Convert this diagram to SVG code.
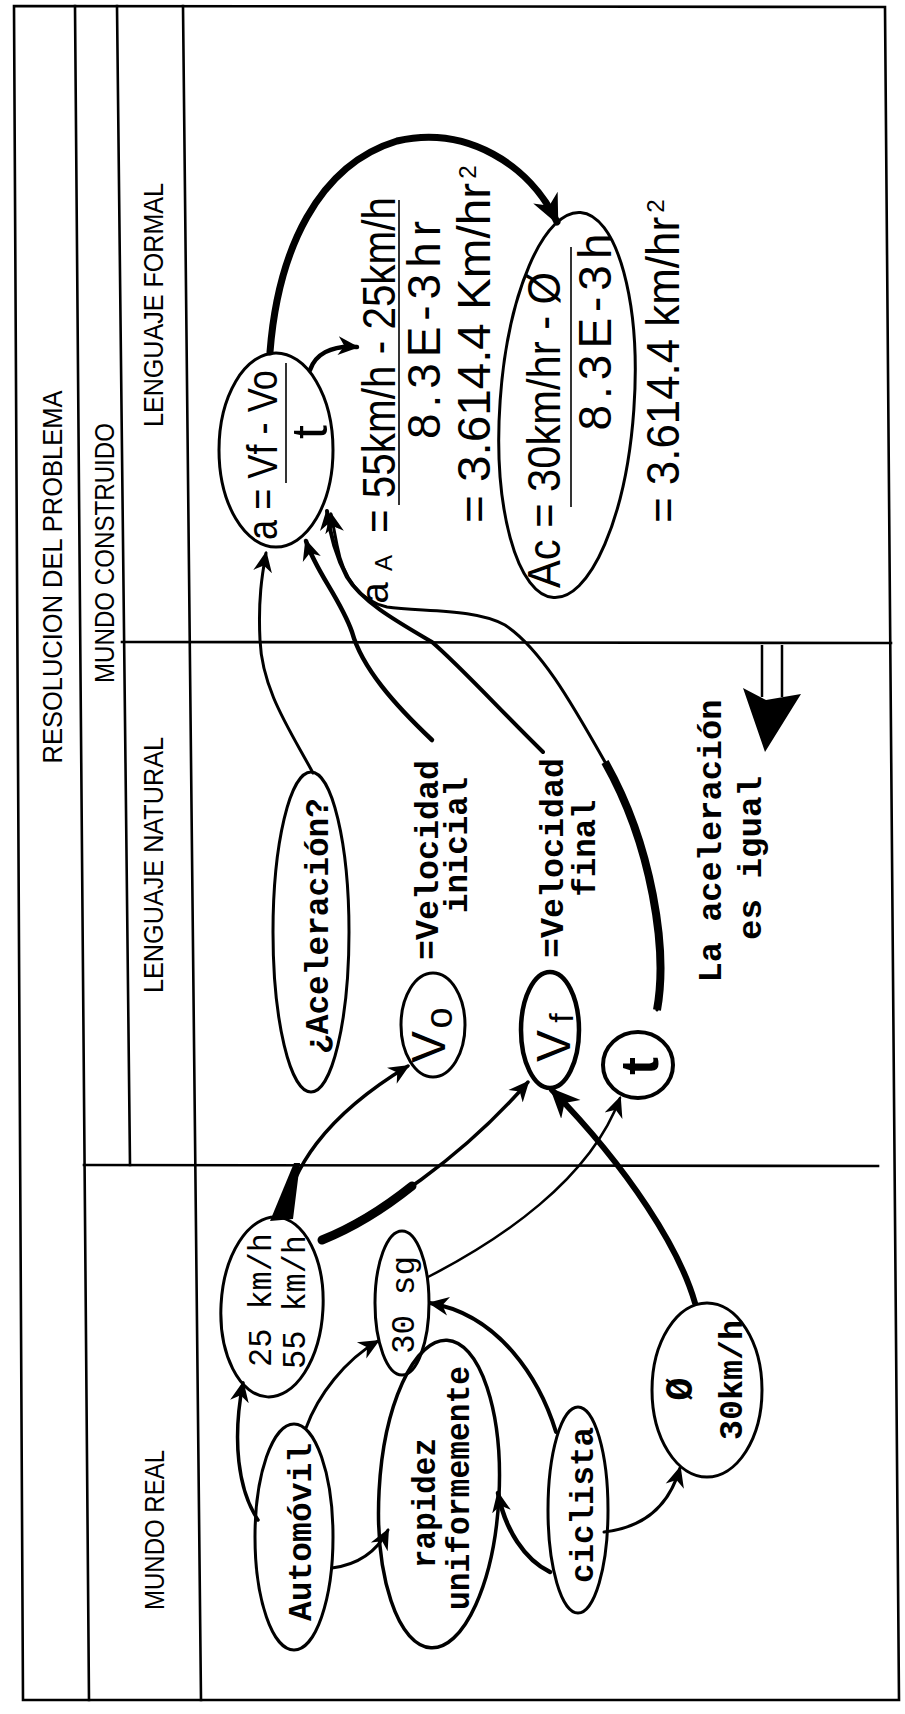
<svg xmlns="http://www.w3.org/2000/svg" width="905" height="1714" viewBox="0 0 905 1714">
<style>
.fr{fill:none;stroke:#000;stroke-width:2.6;stroke-linecap:square}
.n{fill:none;stroke:#000;stroke-width:3}
.h{font-family:"Liberation Sans",Arial,sans-serif;font-size:27px;fill:#000}
.tw{font-family:"Liberation Mono","Courier New",monospace;font-weight:bold;font-size:33px;fill:#000}
.tr{font-family:"Liberation Mono","Courier New",monospace;font-size:34px;fill:#000}
.hw{font-family:"Liberation Sans",Arial,sans-serif;font-size:46px;fill:#000}
.c{fill:none;stroke:#000;stroke-width:3;stroke-linecap:round}
.bar{stroke:#000;stroke-width:1.6}
</style>
<defs>
<marker id="ah" viewBox="0 0 20 20" refX="18" refY="10" markerWidth="21" markerHeight="21" markerUnits="userSpaceOnUse" orient="auto"><path d="M0,1 L20,10 L0,19 L6,10 Z" fill="#000"/></marker>
<marker id="ahL" viewBox="0 0 20 20" refX="18" refY="10" markerWidth="30" markerHeight="30" markerUnits="userSpaceOnUse" orient="auto"><path d="M0,1 L20,10 L0,19 L6,10 Z" fill="#000"/></marker>
</defs>
<rect width="905" height="1714" fill="#fff"/>

<g id="frame">
<path class="fr" d="M14,6 L885,7 L899,1700 L23,1700 Z"/>
<path class="fr" d="M75,6 L89,1700"/>
<path class="fr" d="M117,6 L130,1165"/>
<path class="fr" d="M183,6 L201,1700"/>
<path class="fr" d="M122,642 L891,643"/>
<path class="fr" d="M84,1165 L878,1166"/>
<text class="h" text-anchor="middle" transform="translate(62,577) rotate(-90)" textLength="373" lengthAdjust="spacingAndGlyphs">RESOLUCION DEL PROBLEMA</text>
<text class="h" text-anchor="middle" transform="translate(114,553) rotate(-90)" textLength="260" lengthAdjust="spacingAndGlyphs">MUNDO CONSTRUIDO</text>
<text class="h" text-anchor="middle" transform="translate(163,305) rotate(-90)" textLength="244" lengthAdjust="spacingAndGlyphs">LENGUAJE FORMAL</text>
<text class="h" text-anchor="middle" transform="translate(163,865) rotate(-90)" textLength="256" lengthAdjust="spacingAndGlyphs">LENGUAJE NATURAL</text>
<text class="h" text-anchor="middle" transform="translate(164,1530) rotate(-90)" textLength="160" lengthAdjust="spacingAndGlyphs">MUNDO REAL</text>
</g>

<g id="connectors">
<path class="c" d="M313,773 C290,730 262,690 260,640 C258,600 262,575 266,553" marker-end="url(#ah)"/>
<path class="c" style="stroke-width:4.5" d="M432,740 C395,705 362,668 352,632 C340,598 316,572 306,541" marker-end="url(#ah)"/>
<path class="c" style="stroke-width:4" d="M543,752 C500,710 462,668 432,642 C398,622 362,602 347,577 C336,556 330,535 327,511" marker-end="url(#ah)"/>
<path class="c" d="M657,1010 C668,950 652,845 605,762 C570,700 540,648 505,625 C475,608 420,612 387,607 C360,601 343,578 337,545 L331,514" marker-end="url(#ah)"/>
<path class="c" style="stroke-width:8;stroke-linecap:butt" d="M657,1010 C668,950 652,845 605,762"/>
<path class="c" style="stroke-width:7" d="M270,352 C278,250 318,165 397,141 C467,125 530,165 557,222" marker-end="url(#ahL)"/>
<path class="c" style="stroke-width:4.5" d="M310,370 C315,355 330,345 357,347" marker-end="url(#ah)"/>

<path class="c" style="stroke-width:3.5" d="M283,1217 C292,1170 322,1118 408,1066" marker-end="url(#ah)"/>
<polygon points="270,1221 293,1219 300,1163 294,1163" fill="#000"/>
<path class="c" style="stroke-width:3.5" d="M320,1240 C380,1212 460,1160 528,1082" marker-end="url(#ah)"/>
<path class="c" style="stroke-width:9" d="M322,1240 C352,1228 382,1210 412,1186"/>
<path class="c" style="stroke-width:2.5" d="M428,1277 C500,1240 590,1180 620,1098" marker-end="url(#ah)"/>
<path class="c" style="stroke-width:6" d="M695,1303 C680,1250 630,1170 552,1090" marker-end="url(#ahL)"/>
<path class="c" style="stroke-width:3.5" d="M258,1520 C238,1490 232,1440 243,1383" marker-end="url(#ah)"/>
<path class="c" d="M306,1428 C318,1395 345,1360 378,1341" marker-end="url(#ah)"/>
<path class="c" d="M332,1568 C355,1565 375,1555 388,1530" marker-end="url(#ah)"/>
<path class="c" style="stroke-width:4.5" d="M550,1572 C525,1560 505,1530 498,1493" marker-end="url(#ah)"/>
<path class="c" style="stroke-width:4" d="M556,1432 C540,1380 500,1315 430,1303" marker-end="url(#ah)"/>
<path class="c" d="M604,1532 C640,1528 668,1510 680,1468" marker-end="url(#ah)"/>

<path d="M762,645 L762,697 M782,645 L782,697" stroke="#000" stroke-width="2.5" fill="none"/>
<polygon points="743,688 766,700 801,694 765,752" fill="#000"/>
</g>

<g id="formula-a">
<ellipse class="n" cx="276" cy="450" rx="57" ry="97"/>
<text class="hw" style="font-size:42px" text-anchor="middle" transform="translate(277,455) rotate(-90)" textLength="170" lengthAdjust="spacingAndGlyphs">a = Vf - Vo</text>
<line class="bar" x1="286" y1="363" x2="286" y2="483"/>
<text class="hw" style="font-size:50px" text-anchor="middle" transform="translate(327,432) rotate(-90)">t</text>
</g>

<g id="calc-aA">
<text class="hw" style="font-size:38px" text-anchor="middle" transform="translate(388,593) rotate(-90)">a</text>
<text class="hw" style="font-size:24px" text-anchor="middle" transform="translate(392,563) rotate(-90)">A</text>
<text class="hw" text-anchor="middle" transform="translate(395,365) rotate(-90)" textLength="336" lengthAdjust="spacingAndGlyphs">= 55km/h - 25km/h</text>
<line class="bar" x1="399" y1="200" x2="399" y2="505"/>
<text class="hw" text-anchor="middle" transform="translate(440,330) rotate(-90)" textLength="218">8.3E-3hr</text>
<text class="hw" text-anchor="middle" transform="translate(490,353) rotate(-90)" textLength="340" lengthAdjust="spacingAndGlyphs">= 3.614.4 Km/hr</text>
<text class="hw" style="font-size:24px" text-anchor="middle" transform="translate(476,172) rotate(-90)">2</text>
</g>

<g id="formula-Ac">
<ellipse class="n" cx="567" cy="405" rx="67" ry="193" transform="rotate(4 567 405)"/>
<text class="hw" text-anchor="middle" transform="translate(560,430) rotate(-90)" textLength="316" lengthAdjust="spacingAndGlyphs">Ac = 30km/hr - Ø</text>
<line class="bar" x1="571" y1="247" x2="571" y2="507"/>
<text class="hw" text-anchor="middle" transform="translate(611,332) rotate(-90)" textLength="197">8.3E-3h</text>
</g>

<g id="result-Ac">
<text class="hw" text-anchor="middle" transform="translate(679,370) rotate(-90)" textLength="306" lengthAdjust="spacingAndGlyphs">= 3.614.4 km/hr</text>
<text class="hw" style="font-size:24px" text-anchor="middle" transform="translate(664,206) rotate(-90)">2</text>
</g>

<g id="aceleracion">
<ellipse class="n" cx="311" cy="932" rx="38" ry="160"/>
<text class="tw" text-anchor="middle" transform="translate(328,926) rotate(-90)" textLength="256" lengthAdjust="spacingAndGlyphs">¿Aceleración?</text>
</g>

<g id="v0">
<ellipse class="n" cx="433" cy="1025" rx="32" ry="52"/>
<text class="hw" style="font-size:48px" text-anchor="middle" transform="translate(445,1047) rotate(-90)">V</text>
<text class="hw" style="font-size:38px" text-anchor="middle" transform="translate(452,1018) rotate(-90)">o</text>
</g>

<g id="vel-inicial">
<text class="tw" text-anchor="middle" transform="translate(438,860) rotate(-90)" textLength="200" lengthAdjust="spacingAndGlyphs">=Velocidad</text>
<text class="tw" text-anchor="middle" transform="translate(467,845) rotate(-90)" textLength="136" lengthAdjust="spacingAndGlyphs">inicial</text>
</g>

<g id="vf">
<ellipse class="n" style="stroke-width:4.5" cx="550" cy="1030" rx="29" ry="58"/>
<text class="hw" style="font-size:48px" text-anchor="middle" transform="translate(570,1046) rotate(-90)">V</text>
<text class="hw" style="font-size:34px" text-anchor="middle" transform="translate(573,1018) rotate(-90)">f</text>
</g>

<g id="vel-final">
<text class="tw" text-anchor="middle" transform="translate(563,858) rotate(-90)" textLength="200" lengthAdjust="spacingAndGlyphs">=Velocidad</text>
<text class="tw" text-anchor="middle" transform="translate(595,848) rotate(-90)" textLength="97" lengthAdjust="spacingAndGlyphs">final</text>
</g>

<g id="t">
<ellipse class="n" style="stroke-width:4" cx="638" cy="1065" rx="35" ry="33"/>
<text class="hw" style="font-size:54px;font-weight:bold" text-anchor="middle" transform="translate(658,1066) rotate(-90)">t</text>
</g>

<g id="la-aceleracion">
<text class="tw" text-anchor="middle" transform="translate(721,841) rotate(-90)" textLength="283" lengthAdjust="spacingAndGlyphs">La aceleración</text>
<text class="tw" text-anchor="middle" transform="translate(761,858) rotate(-90)" textLength="164" lengthAdjust="spacingAndGlyphs">es igual</text>
</g>

<g id="velocidades">
<ellipse class="n" cx="272" cy="1307" rx="51" ry="90" transform="rotate(3 272 1307)"/>
<text class="tr" text-anchor="middle" transform="translate(271,1300) rotate(-90)" textLength="134" lengthAdjust="spacingAndGlyphs">25 km/h</text>
<text class="tr" text-anchor="middle" transform="translate(305,1302) rotate(-90)" textLength="134" lengthAdjust="spacingAndGlyphs">55 km/h</text>
</g>

<g id="tiempo">
<ellipse class="n" cx="402" cy="1303" rx="27" ry="72"/>
<text class="tr" text-anchor="middle" transform="translate(414,1305) rotate(-90)" textLength="98" lengthAdjust="spacingAndGlyphs">30 sg</text>
</g>

<g id="automovil">
<ellipse class="n" cx="294" cy="1537" rx="39" ry="113"/>
<text class="tw" text-anchor="middle" transform="translate(311,1532) rotate(-90)" textLength="178" lengthAdjust="spacingAndGlyphs">Automóvil</text>
</g>

<g id="rapidez">
<ellipse class="n" style="stroke-width:3.5" cx="439" cy="1494" rx="60" ry="154" transform="rotate(3 439 1494)"/>
<text class="tw" text-anchor="middle" transform="translate(435,1503) rotate(-90)" textLength="130" lengthAdjust="spacingAndGlyphs">rapidez</text>
<text class="tw" text-anchor="middle" transform="translate(469,1488) rotate(-90)" textLength="244" lengthAdjust="spacingAndGlyphs">uniformemente</text>
</g>

<g id="ciclista">
<ellipse class="n" cx="578" cy="1510" rx="30" ry="103"/>
<text class="tw" text-anchor="middle" transform="translate(593,1505) rotate(-90)" textLength="156" lengthAdjust="spacingAndGlyphs">ciclista</text>
</g>

<g id="vel-ciclista">
<ellipse class="n" cx="707" cy="1390" rx="55" ry="87"/>
<text class="tw" style="font-size:38px" text-anchor="middle" transform="translate(692,1389) rotate(-90)">Ø</text>
<text class="tw" text-anchor="middle" transform="translate(742,1380) rotate(-90)" textLength="120" lengthAdjust="spacingAndGlyphs">30km/h</text>
</g>
</svg>
